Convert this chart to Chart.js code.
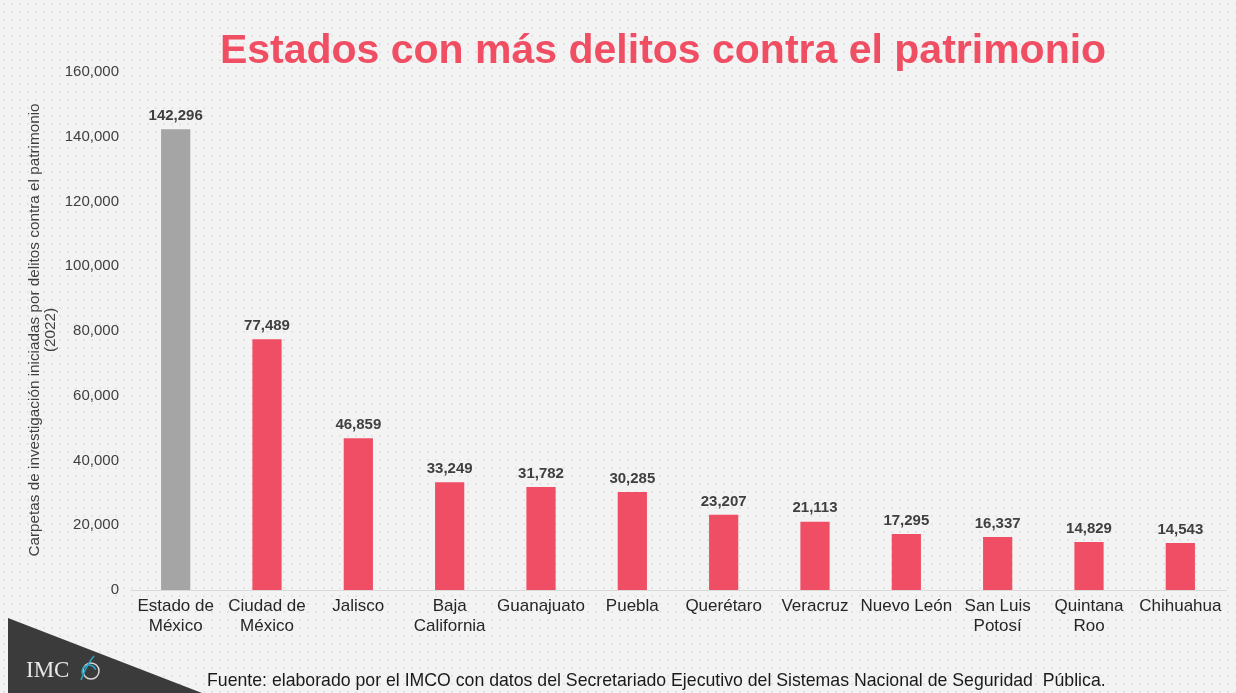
<!DOCTYPE html>
<html>
<head>
<meta charset="utf-8">
<script src="https://cdn.jsdelivr.net/npm/chart.js@4"></script>
<style>
  html, body { margin: 0; padding: 0; }
  body {
    width: 1236px; height: 693px; overflow: hidden;
    background-color: #f3f3f3;
    background-image: radial-gradient(#e4e4e4 1px, transparent 1.2px);
    background-size: 8px 8px;
  }
  #wrap { position: relative; width: 1236px; height: 693px; }
</style>
</head>
<body>
<div id="wrap"><canvas id="bar-estados" width="1236" height="693"></canvas></div>
<script>
var estados = [
  ["Estado de", "México"], ["Ciudad de", "México"], "Jalisco", ["Baja", "California"],
  "Guanajuato", "Puebla", "Querétaro", "Veracruz", "Nuevo León",
  ["San Luis", "Potosí"], ["Quintana", "Roo"], "Chihuahua"
];
var carpetas = [142296, 77489, 46859, 33249, 31782, 30285, 23207, 21113, 17295, 16337, 14829, 14543];
var yTicks = [0, 20000, 40000, 60000, 80000, 100000, 120000, 140000, 160000];

var FONT = "'Liberation Sans', Arial, sans-serif";

// colores: primer estado en gris, el resto en rojo IMCO
var colores = carpetas.map(function(v, i) { return i === 0 ? "#a5a5a5" : "#f04e65"; });

// etiquetas de valor sobre cada barra
var valueLabels = {
  id: "valueLabels",
  afterDatasetsDraw: function(chart) {
    var ctx = chart.ctx;
    var meta = chart.getDatasetMeta(0);
    ctx.save();
    ctx.font = "bold 15px " + FONT;
    ctx.fillStyle = "#404040";
    ctx.textAlign = "center";
    ctx.textBaseline = "bottom";
    meta.data.forEach(function(bar, i) {
      ctx.fillText(carpetas[i].toLocaleString("en-US"), bar.x, bar.y - 6);
    });
    ctx.restore();
  }
};

// titulo, eje y, pie de pagina y logo
var decor = {
  id: "decor",
  afterDraw: function(chart) {
    var ctx = chart.ctx;
    ctx.save();

    ctx.font = "bold 41px " + FONT;
    ctx.fillStyle = "#f04e63";
    ctx.textAlign = "center";
    ctx.textBaseline = "alphabetic";
    ctx.fillText("Estados con más delitos contra el patrimonio", 663, 63);

    ctx.save();
    ctx.translate(35, 330);
    ctx.rotate(-Math.PI / 2);
    ctx.font = "15.3px " + FONT;
    ctx.fillStyle = "#404040";
    ctx.textAlign = "center";
    ctx.textBaseline = "middle";
    ctx.fillText("Carpetas de investigación iniciadas por delitos contra el patrimonio", 0, 0);
    ctx.fillText("(2022)", 0, 16);
    ctx.restore();

    ctx.fillStyle = "#3b3b3b";
    ctx.beginPath();
    ctx.moveTo(8, 618);
    ctx.lineTo(8, 693);
    ctx.lineTo(202, 693);
    ctx.closePath();
    ctx.fill();

    ctx.font = "23px 'Liberation Serif', serif";
    ctx.fillStyle = "#e8e8e8";
    ctx.textAlign = "left";
    ctx.textBaseline = "middle";
    ctx.fillText("IMC", 26, 671);
    ctx.strokeStyle = "#d8d8d8";
    ctx.lineWidth = 1.5;
    ctx.beginPath();
    ctx.arc(91, 671, 8, 0, Math.PI * 2);
    ctx.stroke();
    ctx.strokeStyle = "#2aa6c4";
    ctx.beginPath();
    ctx.arc(89, 672, 7, Math.PI * 0.9, Math.PI * 1.9);
    ctx.stroke();
    ctx.beginPath();
    ctx.moveTo(81, 680);
    ctx.quadraticCurveTo(87, 664, 94, 656);
    ctx.stroke();

    ctx.font = "17.7px " + FONT;
    ctx.fillStyle = "#1a1a1a";
    ctx.textAlign = "left";
    ctx.fillText("Fuente: elaborado por el IMCO con datos del Secretariado Ejecutivo del Sistemas Nacional de Seguridad  Pública.", 207, 681);

    ctx.restore();
  }
};

var ctx = document.getElementById("bar-estados");

var data = {
  labels: estados,
  datasets: [
    {
      label: "Carpetas",
      data: carpetas,
      backgroundColor: colores,
      borderWidth: 0,
      categoryPercentage: 1,
      barPercentage: 0.32
    }
  ]
};

var options = {
  responsive: false,
  animation: false,
  layout: { padding: { top: 72, right: 10, left: 0, bottom: 0 } },
  plugins: {
    legend: { display: false },
    title: { display: false },
    tooltip: { enabled: false }
  },
  scales: {
    x: {
      grid: { display: false, drawTicks: false },
      border: { display: true, color: "#d9d9d9", width: 1 },
      ticks: {
        color: "#262626",
        font: { family: FONT, size: 17, lineHeight: 1.2 },
        padding: 6,
        maxRotation: 0,
        autoSkip: false
      },
      afterFit: function(scale) { scale.height = 103; }
    },
    y: {
      min: 0,
      max: 160000,
      afterBuildTicks: function(scale) {
        scale.ticks = yTicks.map(function(v) { return { value: v }; });
      },
      grid: { display: false, drawTicks: false },
      border: { display: false },
      ticks: {
        color: "#404040",
        font: { family: FONT, size: 15 },
        padding: 11,
        callback: function(v) { return v.toLocaleString("en-US"); }
      },
      afterFit: function(scale) { scale.width = 130; }
    }
  }
};

var chart = new Chart(ctx, {
  type: "bar",
  data: data,
  options: options,
  plugins: [valueLabels, decor]
});
</script>
</body>
</html>
